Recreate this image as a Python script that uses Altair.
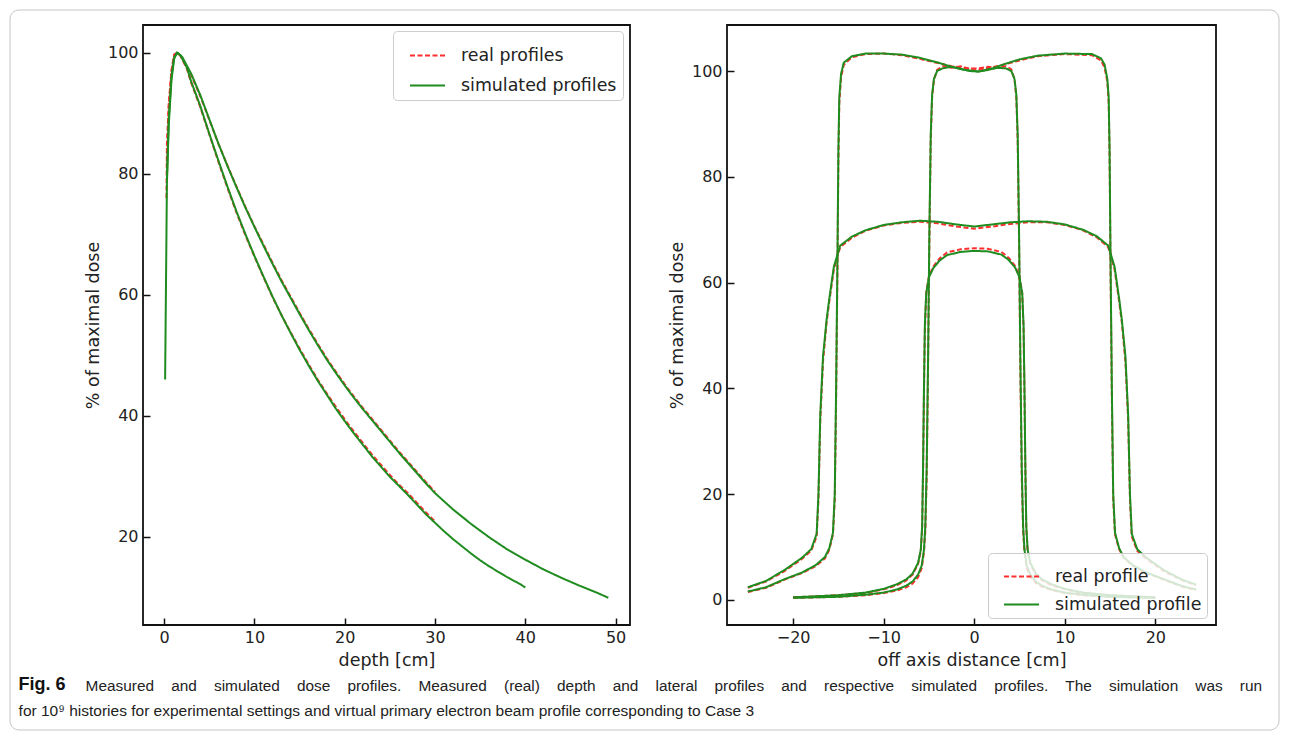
import altair as alt
import pandas as pd

# ---------------- Left panel: depth dose curves ----------------
depth_a_sim = [0.1, 0.3, 0.5, 0.8, 1.1, 1.4, 1.8, 2.5, 3, 4, 5, 6, 7, 8, 9, 10, 11, 12, 13, 14, 15, 16, 17, 18, 19,
               20, 21, 22, 23, 24, 25, 26, 27, 28, 29, 30, 31, 32, 33, 34, 35, 36, 37, 38, 39, 39.5, 40]
dose_a_sim = [46.0, 78.5, 88.0, 95.5, 99.0, 100.0, 99.6, 97.6, 95.2, 91.2, 86.6, 82.2, 77.9, 73.8, 70.0, 66.4, 63.0,
              59.7, 56.6, 53.7, 50.9, 48.3, 45.8, 43.5, 41.2, 39.1, 37.1, 35.2, 33.3, 31.6, 29.9, 28.4, 26.9, 25.3,
              23.7, 22.3, 20.9, 19.6, 18.4, 17.2, 16.1, 15.1, 14.2, 13.3, 12.5, 12.1, 11.6]

depth_b_sim = [0.3, 0.5, 0.8, 1.1, 1.5, 2, 3, 4, 5, 6, 7, 8, 9, 10, 11, 12, 13, 14, 15, 16, 17, 18, 19, 20, 21, 22,
               23, 24, 25, 26, 27, 28, 29, 30, 32, 34, 36, 38, 40, 42, 44, 46, 48, 49.2]
dose_b_sim = [79.0, 89.0, 96.0, 99.3, 100.0, 99.3, 96.5, 93.0, 89.0, 85.0, 81.3, 77.8, 74.4, 71.2, 68.1, 65.1, 62.2,
              59.5, 56.8, 54.2, 51.7, 49.3, 47.1, 45.0, 43.0, 41.1, 39.3, 37.5, 35.7, 33.9, 32.2, 30.5, 28.8, 27.2,
              24.5, 22.1, 19.9, 17.9, 16.2, 14.6, 13.2, 11.9, 10.7, 9.9]

depth_a_real = [0.25, 0.3, 0.5, 0.8, 1.1, 1.4, 1.8, 2.5, 3, 4, 5, 6, 7, 8, 9, 10, 11, 12, 13, 14, 15, 16, 17, 18, 19,
                20, 21, 22, 23, 24, 25, 26, 27, 28, 29, 30]
dose_a_real = [76.0, 85.0, 91.5, 97.0, 99.7, 100.0, 99.5, 97.4, 95.0, 91.0, 86.5, 82.0, 77.7, 73.6, 69.8, 66.3, 62.9,
               59.6, 56.6, 53.8, 51.1, 48.5, 46.0, 43.7, 41.5, 39.4, 37.4, 35.5, 33.6, 31.9, 30.2, 28.6, 27.2, 25.6,
               24.0, 22.5]

depth_b_real = [0.3, 0.5, 0.8, 1.1, 1.5, 2, 3, 4, 5, 6, 7, 8, 9, 10, 11, 12, 13, 14, 15, 16, 17, 18, 19, 20, 21, 22,
                23, 24, 25, 26, 27, 28, 29, 30]
dose_b_real = [82.0, 91.0, 97.0, 99.6, 100.0, 99.2, 96.3, 92.8, 88.9, 85.0, 81.4, 77.9, 74.5, 71.3, 68.3, 65.3, 62.4,
               59.7, 57.0, 54.4, 51.9, 49.5, 47.3, 45.2, 43.2, 41.3, 39.5, 37.7, 35.9, 34.1, 32.4, 30.7, 29.0, 27.4]

# ---------------- Right panel: lateral profiles ----------------
p1_x = [-25, -23, -21, -19, -17.5, -16.5, -16, -15.6, -15.4, -15.25, -15.1, -15.0, -14.9, -14.7, -14.4, -13.5, -12,
        -10, -8, -6, -4, -2.5, -1, 0.5, 2, 3.5, 5, 7, 10, 13, 14, 14.4, 14.7, 14.85, 14.95, 15.05, 15.2, 15.35, 15.55,
        16, 16.5, 17.5, 19, 21, 23, 24.5]
p1_sim = [1.6, 2.4, 3.9, 5.2, 6.6, 8.1, 9.8, 12.7, 20, 40, 65, 85, 95, 99.5, 101.6, 102.8, 103.3, 103.3, 103.1, 102.5,
          101.6, 100.8, 100.2, 99.9, 100.5, 101.4, 102.2, 102.9, 103.3, 103.2, 102.4, 101.2, 98.5, 95, 85, 65, 40, 20,
          12.7, 9.8, 8.1, 6.6, 5.2, 3.9, 2.6, 2.0]
p1_real = [1.5, 2.3, 3.8, 5.1, 6.4, 7.8, 9.5, 12.4, 19, 38, 63, 83, 94, 98.8, 101.2, 102.6, 103.2, 103.3, 103.0, 102.3,
           101.5, 100.9, 100.6, 100.3, 100.7, 101.3, 102.0, 102.8, 103.2, 103.0, 102.0, 100.6, 98.0, 94, 84, 63, 38, 19,
           12.4, 9.6, 8.0, 6.5, 5.1, 3.8, 2.5, 1.9]

p2_x = [-20, -15, -12, -10, -8.5, -7.5, -6.8, -6.2, -5.8, -5.55, -5.4, -5.25, -5.1, -4.95, -4.8, -4.65, -4.45, -4.1,
        -3.5, -2.5, -1.5, -0.5, 0.5, 1.5, 2.5, 3.5, 4.1, 4.45, 4.65, 4.8, 4.95, 5.1, 5.25, 5.4, 5.55, 5.8, 6.2, 6.8,
        7.5, 8.5, 10, 12, 15, 20]
p2_sim = [0.4, 0.6, 1.0, 1.4, 2.0, 2.7, 3.5, 4.8, 6.5, 9.5, 14, 25, 45, 70, 88, 95.5, 98.5, 100.0, 100.5, 100.8,
          100.4, 100.0, 99.9, 100.2, 100.6, 100.5, 100.0, 98.5, 95.5, 88, 70, 45, 25, 14, 9.5, 6.5, 4.8, 3.5, 2.7, 2.0,
          1.4, 1.0, 0.6, 0.4]
p2_real = [0.4, 0.6, 0.9, 1.3, 1.8, 2.4, 3.1, 4.3, 6.0, 9.0, 13, 23, 43, 68, 87, 95, 98.3, 100.2, 100.9, 100.6, 100.9,
           100.4, 100.5, 100.8, 100.6, 100.9, 100.3, 98.4, 95, 87, 68, 43, 23, 13, 9.0, 6.0, 4.4, 3.2, 2.5, 1.9, 1.3,
           0.9, 0.6, 0.4]

p3_x = [-25, -23, -21, -19, -18, -17.4, -17.2, -17.0, -16.7, -16.3, -16.0, -15.5, -14.8, -13.5, -12, -10, -8, -6, -4,
        -2, 0, 2, 4, 6, 8, 10, 12, 13.5, 14.8, 15.5, 16.0, 16.3, 16.7, 17.0, 17.2, 17.4, 18, 19, 21, 23, 24.5]
p3_sim = [2.4, 3.6, 5.6, 8.0, 9.6, 12.5, 20, 35, 46, 53, 57, 63, 67, 68.7, 69.9, 70.9, 71.4, 71.7, 71.5, 71.0, 70.6,
          71.0, 71.4, 71.6, 71.5, 71.0, 70.0, 68.8, 67, 63, 57, 53, 46, 35, 20, 12.5, 9.6, 8.0, 5.6, 3.8, 2.9]
p3_real = [2.3, 3.5, 5.4, 7.8, 9.3, 12.0, 19, 34, 45, 52.5, 56.5, 62.5, 66.7, 68.5, 69.8, 70.8, 71.3, 71.5, 71.2, 70.6,
           70.2, 70.6, 71.1, 71.4, 71.4, 70.9, 69.9, 68.6, 66.7, 62.5, 56.5, 52.5, 45, 34, 19, 12.0, 9.3, 7.8, 5.4,
           3.7, 2.8]

p4_x = [-20, -15, -12, -10, -8.5, -7.5, -6.8, -6.2, -5.9, -5.75, -5.65, -5.55, -5.45, -5.3, -5.0, -4.5, -3.8, -3.0,
        -1.5, 0, 1.5, 3.0, 3.8, 4.5, 5.0, 5.3, 5.45, 5.55, 5.65, 5.75, 5.9, 6.2, 6.8, 7.5, 8.5, 10, 12, 15, 20]
p4_sim = [0.5, 0.9, 1.4, 2.1, 3.0, 3.9, 5.0, 7.0, 9.5, 14, 25, 40, 52, 58, 61, 62.8, 64.2, 65.2, 65.8, 66.0, 65.9,
          65.3, 64.3, 62.9, 61, 58, 52, 40, 25, 14, 9.5, 7.0, 5.0, 3.9, 3.0, 2.1, 1.4, 0.9, 0.5]
p4_real = [0.5, 0.9, 1.3, 2.0, 2.8, 3.7, 4.8, 6.8, 9.3, 13.5, 24, 39, 51, 58, 61.2, 63.1, 64.6, 65.7, 66.3, 66.5,
           66.4, 65.8, 64.7, 63.2, 61.2, 58, 51, 39, 24, 13.5, 9.3, 6.8, 4.8, 3.7, 2.8, 2.0, 1.3, 0.9, 0.5]

# ---------------- Text ----------------
left_labels = ["real profiles", "simulated profiles"]
right_labels = ["real profile", "simulated profile"]
left_xticks = [0, 10, 20, 30, 40, 50]
left_yticks = [20, 40, 60, 80, 100]
right_xticks = [-20, -10, 0, 10, 20]
right_yticks = [0, 20, 40, 60, 80, 100]
caption_label = "Fig. 6"
caption_line1_words = ["Measured", "and", "simulated", "dose", "profiles.", "Measured", "(real)", "depth", "and",
                       "lateral", "profiles", "and", "respective", "simulated", "profiles.", "The", "simulation",
                       "was", "run"]
caption_line2 = ("for 10\u2079 histories for experimental settings and virtual primary electron beam profile "
                 "corresponding to Case 3")
JUSTIFY_GAP = "\u2007\u2007"  # line 1 of the caption is justified in the original
caption_line1 = JUSTIFY_GAP.join(caption_line1_words)

RED = "#ff2f2f"
GREEN = "#1f8c1f"
TXT = "#222222"
FONT = "DejaVu Sans"
CAP_FONT = "Liberation Sans"


def build(curves):
    rows = []
    for name, kind, xs, ys in curves:
        assert len(xs) == len(ys), name
        for i, (x, y) in enumerate(zip(xs, ys)):
            rows.append({"x": x, "y": y, "curve": name, "kind": kind, "i": i})
    return pd.DataFrame(rows)


left_real = build([("A", left_labels[0], depth_a_real, dose_a_real),
                   ("B", left_labels[0], depth_b_real, dose_b_real)])
left_sim = build([("A", left_labels[1], depth_a_sim, dose_a_sim),
                  ("B", left_labels[1], depth_b_sim, dose_b_sim)])
right_real = build([("P1", right_labels[0], p1_x, p1_real), ("P2", right_labels[0], p2_x, p2_real),
                    ("P3", right_labels[0], p3_x, p3_real), ("P4", right_labels[0], p4_x, p4_real)])
right_sim = build([("P1", right_labels[1], p1_x, p1_sim), ("P2", right_labels[1], p2_x, p2_sim),
                   ("P3", right_labels[1], p3_x, p3_sim), ("P4", right_labels[1], p4_x, p4_sim)])


def axis(title, values, orient):
    return alt.Axis(title=title, values=values, format="d", orient=orient, grid=False, domain=False,
                    ticks=True, tickSize=7, offset=-7, tickColor="#111", tickWidth=1.5,
                    labelPadding=4 if orient == "bottom" else 5, labelFont=FONT, labelFontSize=16,
                    labelColor=TXT, titleFont=FONT, titleFontSize=17.5, titleFontWeight="normal",
                    titleColor=TXT, titlePadding=6 if orient == "bottom" else 5,
                    labelFlush=False, labelOverlap=False)


def panel(real_df, sim_df, labels, xdom, ydom, xticks, yticks, xtitle, lx, ly, pad, rowpad):
    legend = alt.Legend(title=None, orient="none", legendX=lx, legendY=ly,
                        fillColor="rgba(255,255,255,0.8)", strokeColor="#cccccc", cornerRadius=4,
                        padding=pad, labelFont=FONT, labelFontSize=17.4, labelColor=TXT, labelLimit=400,
                        symbolType="stroke", symbolSize=1225, symbolStrokeWidth=2, rowPadding=rowpad,
                        labelOffset=15, symbolOffset=10)
    color = alt.Color("kind:N", scale=alt.Scale(domain=labels, range=[RED, GREEN]), legend=legend)
    dash = alt.StrokeDash("kind:N", scale=alt.Scale(domain=labels, range=[[5, 2.5], [1, 0]]), legend=legend)
    enc = dict(
        x=alt.X("x:Q", scale=alt.Scale(domain=xdom, nice=False, zero=False), axis=axis(xtitle, xticks, "bottom")),
        y=alt.Y("y:Q", scale=alt.Scale(domain=ydom, nice=False, zero=False),
                axis=axis("% of maximal dose", yticks, "left")),
        color=color, strokeDash=dash, detail="curve:N", order="i:Q",
    )
    real = alt.Chart(real_df).mark_line(strokeWidth=2, clip=True).encode(**enc)
    sim = alt.Chart(sim_df).mark_line(strokeWidth=2, clip=True).encode(**enc)
    return [real, sim]


left_layers = panel(left_real, left_sim, left_labels, [-2.35, 51.6], [5.4, 104.6], left_xticks, left_yticks,
                    "depth [cm]", 250, 6, 6, 3)
right_layers = panel(right_real, right_sim, right_labels, [-27.3, 26.7], [-4.73, 108.7], right_xticks,
                     right_yticks, "off axis distance [cm]", 261, 528, 5, 1)

# decorative rounded border around the whole figure (drawn from the left panel, outside its plot area)
frame_box = alt.Chart(pd.DataFrame({"box": [0]})).mark_rect(
    filled=False, stroke="#c4c4c4", strokeWidth=1, cornerRadius=9, clip=False
).encode(x=alt.value(-133), x2=alt.value(1136), y=alt.value(-15), y2=alt.value(705))

left = alt.layer(frame_box, *left_layers).properties(width=487, height=600)
right = alt.layer(*right_layers).properties(width=489, height=600)

inner = (
    alt.hconcat(left, right, spacing=97, bounds="flush")
    .resolve_scale(color="independent", strokeDash="independent")
    .properties(title=alt.TitleParams(
        text=caption_line1, orient="bottom", anchor="start", frame="bounds", dx=77, offset=-52,
        font=CAP_FONT, fontSize=15.4, fontWeight="normal", color=TXT))
)

chart = (
    alt.vconcat(inner)
    .properties(
        title=alt.TitleParams(
            text=caption_label, subtitle=[caption_line2], orient="bottom", anchor="start", frame="bounds",
            dx=10, offset=-55, font=CAP_FONT, fontSize=18, fontWeight="bold", color="#111111",
            subtitleFont=CAP_FONT, subtitleFontSize=15.5, subtitleColor=TXT, subtitlePadding=10,
        ),
        padding={"left": 0, "top": 0, "right": 0, "bottom": 0},
        background="white",
    )
    .configure_view(stroke="#111111", strokeWidth=1.8)
)

chart.save("out.html", embed_options={"renderer": "svg", "actions": False})
